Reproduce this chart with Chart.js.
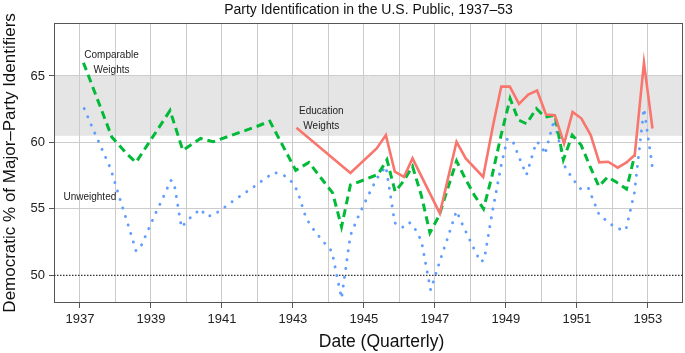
<!DOCTYPE html>
<html>
<head>
<meta charset="utf-8">
<script src="https://cdn.jsdelivr.net/npm/chart.js@4"></script>
<style>
  html, body { margin: 0; padding: 0; background: #fff; }
</style>
</head>
<body>
<canvas id="myChart" width="685" height="353"></canvas>
<script>
// quarterly poll dates (decimal years) and Democratic share
const unweightedDates = [1937.12, 1937.37, 1937.62, 1937.87, 1938.12, 1938.37, 1938.58, 1938.69, 1938.87, 1939.12,
  1939.37, 1939.56, 1939.65, 1939.86, 1940.03, 1940.4, 1940.55, 1940.74, 1940.96, 1941.37, 1941.87, 1942.12,
  1942.47, 1942.73, 1942.92, 1943.12, 1943.37, 1943.62, 1943.87, 1944.1, 1944.37, 1944.62, 1944.87, 1945.12,
  1945.37, 1945.62, 1945.87, 1946.08, 1946.27, 1946.4, 1946.62, 1946.88, 1947.12, 1947.37, 1947.61, 1947.72,
  1947.87, 1948.12, 1948.29, 1948.39, 1948.62, 1948.87, 1949.04, 1949.18, 1949.37, 1949.58, 1949.86, 1950.0,
  1950.1, 1950.36, 1950.66, 1950.87, 1951.11, 1951.32, 1951.62, 1951.95, 1952.18, 1952.38, 1952.62, 1952.89, 1953.13];
const unweighted = [62.55, 61.0, 59.5, 58.0, 55.8, 53.7, 51.85, 52.0, 53.1, 54.6,
  56.0, 57.15, 57.0, 53.6, 54.15, 55.0, 54.45, 54.5, 54.9, 55.7, 56.6, 57.1,
  57.75, 57.55, 57.2, 56.4, 54.3, 53.3, 52.5, 51.8, 48.27, 53.0, 54.6, 56.0,
  57.3, 58.2, 53.95, 53.6, 54.0, 53.7, 52.6, 48.9, 50.9, 52.9, 54.85, 54.15,
  53.3, 51.9, 51.0, 51.2, 54.8, 58.3, 60.25, 60.2, 58.9, 57.55, 60.05, 59.8,
  59.1, 61.7, 58.2, 57.3, 56.5, 56.6, 54.6, 53.85, 53.5, 53.4, 56.2, 62.55, 58.1];

const comparableDates = [1937.1, 1937.9, 1938.3, 1938.58, 1939.54, 1939.9, 1940.4, 1940.75, 1941.98, 1942.35,
  1943.08, 1943.45, 1944.12, 1944.37, 1944.62, 1945.12, 1945.4, 1945.65, 1945.88, 1946.12, 1946.37, 1946.62,
  1946.86, 1947.12, 1947.37, 1947.61, 1947.87, 1948.12, 1948.37, 1948.62, 1948.87, 1949.12, 1949.35, 1949.58,
  1949.86, 1950.1, 1950.38, 1950.62, 1950.87, 1951.12, 1951.37, 1951.62, 1951.87, 1952.12, 1952.4, 1952.63];
const comparable = [66.0, 60.4, 59.2, 58.5, 62.4, 59.4, 60.3, 60.05, 61.2, 61.6,
  57.9, 58.5, 56.2, 53.65, 56.8, 57.3, 57.6, 58.7, 56.3, 57.1, 58.2, 56.0,
  53.2, 54.5, 56.6, 58.6, 57.2, 56.0, 55.0, 57.6, 60.6, 63.3, 61.7, 61.4,
  62.55, 61.9, 62.05, 58.7, 60.55, 59.8, 58.2, 56.7, 57.4, 57.0, 56.5, 59.05];

const educationDates = [1943.1, 1944.62, 1945.36, 1945.62, 1945.87, 1946.13, 1946.37, 1947.14, 1947.61, 1947.87,
  1948.36, 1948.64, 1948.87, 1949.11, 1949.37, 1949.63, 1949.88, 1950.13, 1950.38, 1950.64, 1950.88, 1951.13,
  1951.39, 1951.63, 1951.88, 1952.15, 1952.4, 1952.63, 1952.89, 1953.13];
const education = [61.1, 57.7, 59.55, 60.55, 57.8, 57.4, 58.8, 54.66, 60.05, 58.8,
  57.4, 61.3, 64.2, 64.2, 62.9, 63.6, 63.9, 62.1, 62.05, 59.9, 62.3, 61.8,
  60.55, 58.5, 58.55, 58.1, 58.5, 59.05, 66.0, 61.05];

const yearTicks = [1937, 1938, 1939, 1940, 1941, 1942, 1943, 1944, 1945, 1946, 1947, 1948, 1949, 1950, 1951, 1952, 1953];
const valueTicks = [50, 55, 60, 65];
const evenSplit = 50;
const band = [60.5, 65];
const xRange = [1936.27, 1953.99];
const yRange = [47.92, 69.0];
const xTitle = "Date (Quarterly)";

const labelNotes = [
  { text: "Comparable", x: 1937.89, y: 66.56 },
  { text: "Weights", x: 1937.89, y: 65.44 },
  { text: "Education", x: 1943.8, y: 62.35 },
  { text: "Weights", x: 1943.8, y: 61.23 },
  { text: "Unweighted", x: 1937.28, y: 55.9 },
];

const pairs = (xs, ys) => xs.map((x, i) => ({ x: x, y: ys[i] }));

Chart.defaults.font.family = "'Liberation Sans', Arial, sans-serif";
Chart.defaults.color = "#222";

const backdrop = {
  id: "backdrop",
  beforeDraw(chart) {
    const { ctx, chartArea: a, scales: { y } } = chart;
    const top = y.getPixelForValue(band[1]);
    const bot = y.getPixelForValue(band[0]);
    ctx.save();
    ctx.fillStyle = "#e5e5e5";
    ctx.fillRect(a.left, top, a.right - a.left, bot - top);
    ctx.restore();
  },
  beforeDatasetsDraw(chart) {
    const { ctx, chartArea: a } = chart;
    ctx.save();
    ctx.strokeStyle = "#555";
    ctx.lineWidth = 1;
    ctx.strokeRect(Math.round(a.left) + 0.5, Math.round(a.top) + 0.5,
      Math.round(a.right - a.left) - 1, Math.round(a.bottom - a.top) - 1);
    ctx.restore();
  },
  afterDatasetsDraw(chart) {
    const { ctx, chartArea: a, scales: { x, y } } = chart;
    ctx.save();
    ctx.font = "10px 'Liberation Sans', Arial, sans-serif";
    ctx.fillStyle = "#222";
    ctx.textAlign = "center";
    ctx.textBaseline = "middle";
    labelNotes.forEach((n) => {
      ctx.fillText(n.text, x.getPixelForValue(n.x), y.getPixelForValue(n.y));
    });
    // x axis title, sits a little right of the panel centre in the original
    ctx.font = "17.5px 'Liberation Sans', Arial, sans-serif";
    ctx.fillStyle = "#111";
    ctx.fillText(xTitle, (a.left + a.right) / 2 + 13, 342);
    ctx.restore();
  },
};

let ctx = document.getElementById("myChart").getContext("2d");
let myChart = new Chart(ctx, {
  type: "line",
  data: {
    datasets: [
      {
        label: "Education Weights",
        data: pairs(educationDates, education),
        borderColor: "#f8766d",
        borderWidth: 2.6,
        order: 1,
      },
      {
        label: "Comparable Weights",
        data: pairs(comparableDates, comparable),
        borderColor: "#00ba38",
        borderWidth: 3,
        borderDash: [8, 5],
        order: 2,
      },
      {
        label: "Unweighted",
        data: pairs(unweightedDates, unweighted),
        borderColor: "#619cff",
        borderWidth: 2.9,
        borderDash: [0.1, 8.8],
        borderCapStyle: "round",
        order: 3,
      },
      {
        label: "50%",
        data: pairs(xRange, [evenSplit, evenSplit]),
        borderColor: "#333",
        borderWidth: 1.3,
        borderDash: [1.5, 1.5],
        order: 4,
      },
    ],
  },
  options: {
    responsive: false,
    animation: false,
    devicePixelRatio: 1,
    elements: { point: { radius: 0 }, line: { tension: 0 } },
    layout: { padding: { top: 0, right: 2, bottom: 0, left: 0 } },
    plugins: {
      legend: { display: false },
      tooltip: { enabled: false },
      title: {
        display: true,
        fullSize: false,
        text: "Party Identification in the U.S. Public, 1937\u201353",
        color: "#111",
        font: { size: 14, weight: "normal" },
        padding: { top: 2, bottom: 4 },
      },
    },
    scales: {
      x: {
        type: "linear",
        min: xRange[0],
        max: xRange[1],
        afterBuildTicks: (scale) => { scale.ticks = yearTicks.map((v) => ({ value: v })); },
        afterFit: (scale) => { scale.height = 50; },
        border: { display: false },
        grid: {
          color: "#cccccc",
          lineWidth: 1,
          tickLength: 5,
          tickColor: (c) => (c.tick && c.tick.value % 2 === 1 ? "#555" : "rgba(0,0,0,0)"),
        },
        ticks: {
          autoSkip: false,
          maxRotation: 0,
          padding: 4,
          font: { size: 13 },
          color: "#222",
          callback: (v) => (v % 2 === 1 ? String(v) : ""),
        },
        title: { display: false },
      },
      y: {
        min: yRange[0],
        max: yRange[1],
        afterBuildTicks: (scale) => { scale.ticks = valueTicks.map((v) => ({ value: v })); },
        afterFit: (scale) => { scale.width = 54; },
        border: { display: false },
        grid: {
          color: (c) => (c.tick && c.tick.value === evenSplit ? "rgba(0,0,0,0)" : "#cccccc"),
          lineWidth: 1,
          tickLength: 5,
          tickColor: "#555",
        },
        ticks: {
          padding: 4,
          font: { size: 13 },
          color: "#222",
        },
        title: {
          display: true,
          text: "Democratic % of Major\u2013Party Identifiers",
          font: { size: 17 },
          color: "#111",
          padding: { top: 0, bottom: 0 },
        },
      },
    },
  },
  plugins: [backdrop],
});
</script>
</body>
</html>
